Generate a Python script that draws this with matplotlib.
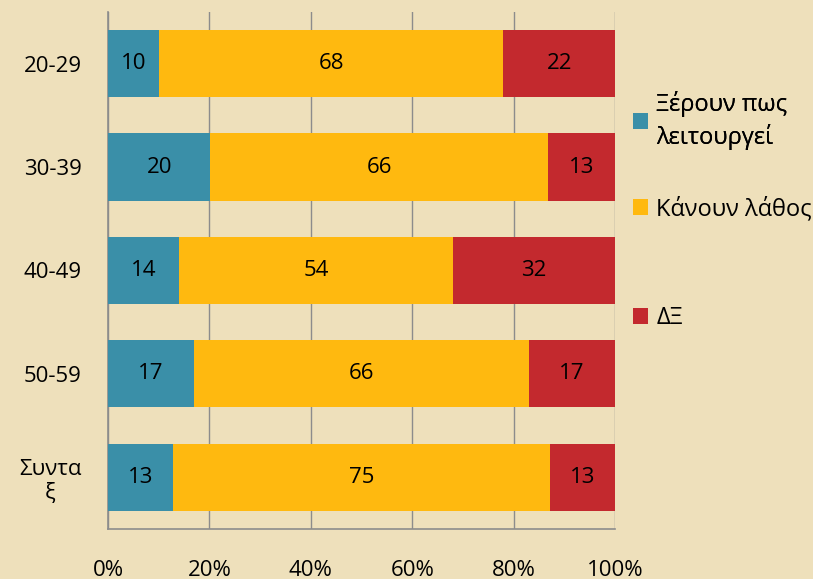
import numpy as np
import matplotlib.pyplot as plt
from matplotlib.ticker import PercentFormatter

# Δεδομένα
categories = ['20-29', '30-39', '40-49', '50-59', 'Συντα\nξ']
know = [10, 20, 14, 17, 13]
mistake = [68, 66, 54, 66, 75]
dk = [22, 13, 32, 17, 13]
series_names = ['Ξέρουν πως\nλειτουργεί', 'Κάνουν λάθος', 'ΔΞ']
colors = ['#3A8FA8', '#FFB90F', '#C3292E']

plt.rcParams['font.family'] = ['Open Sans', 'DejaVu Sans']

bg = '#EEE0BB'
fig = plt.figure(figsize=(8.13, 5.79), dpi=100, facecolor=bg)
ax = fig.add_axes([0.1328, 0.0864, 0.6237, 0.8929])
ax.set_facecolor(bg)

data = np.array([know, mistake, dk], dtype=float)
totals = data.sum(axis=0)
pct = data / totals * 100
y = np.arange(len(categories))

left = np.zeros(len(categories))
handles = []
for vals, raw, name, c in zip(pct, data, series_names, colors):
    bars = ax.barh(y, vals, left=left, height=0.65, color=c, label=name, zorder=3)
    ax.bar_label(bars, labels=[f'{int(v)}' for v in raw], label_type='center',
                 fontsize=16, color='black')
    handles.append(bars)
    left += vals

ax.set_xlim(0, 100)
ax.set_ylim(4.5, -0.5)
ax.set_yticks(y)
ax.set_yticklabels(categories)
for lab in ax.get_yticklabels():
    lab.set_multialignment('center')
ax.xaxis.set_major_formatter(PercentFormatter(decimals=0))
ax.set_xticks(np.arange(0, 101, 20))
ax.tick_params(axis='x', length=0, pad=22, labelsize=16)
ax.tick_params(axis='y', length=0, pad=19, labelsize=16)

ax.grid(axis='x', color='#8C8C8C', linewidth=1, zorder=0)
for s in ['top', 'right']:
    ax.spines[s].set_visible(False)
for s in ['left', 'bottom']:
    ax.spines[s].set_color('#8C8C8C')
    ax.spines[s].set_linewidth(1.2)

# υπόμνημα σε δύο μέρη, για να ταιριάζουν οι αποστάσεις
leg_kw = dict(loc='upper left', frameon=False, fontsize=17, handlelength=0.65,
              handleheight=0.65, handletextpad=0.35, borderpad=0, borderaxespad=0)
leg1 = fig.legend(handles[:1], series_names[:1], bbox_to_anchor=(0.778, 0.843), **leg_kw)
leg1.get_texts()[0].set_linespacing(1.35)
fig.add_artist(leg1)
fig.legend(handles[1:], series_names[1:], bbox_to_anchor=(0.778, 0.66),
           labelspacing=3.6, **leg_kw)

fig.savefig('out.png', dpi=100, facecolor=bg)
